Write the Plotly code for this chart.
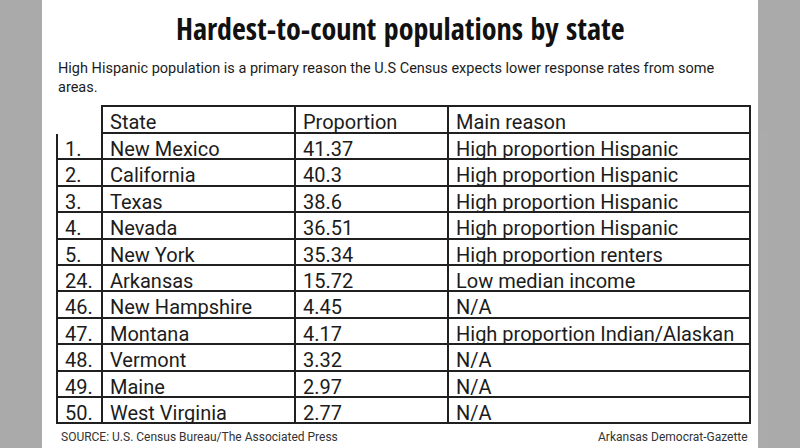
import plotly.graph_objects as go

W, H = 800, 448

ranks = ["1.", "2.", "3.", "4.", "5.", "24.", "46.", "47.", "48.", "49.", "50."]
states = ["New Mexico", "California", "Texas", "Nevada", "New York", "Arkansas",
          "New Hampshire", "Montana", "Vermont", "Maine", "West Virginia"]
proportions = ["41.37", "40.3", "38.6", "36.51", "35.34", "15.72",
               "4.45", "4.17", "3.32", "2.97", "2.77"]
reasons = ["High proportion Hispanic", "High proportion Hispanic", "High proportion Hispanic",
           "High proportion Hispanic", "High proportion renters", "Low median income",
           "N/A", "High proportion Indian/Alaskan", "N/A", "N/A", "N/A"]
headers = ["", "State", "Proportion", "Main reason"]

title = "Hardest-to-count populations by state"
subtitle = ("High Hispanic population is a primary reason the U.S Census expects lower response rates from some<br>"
            "areas.")
source = "SOURCE: U.S. Census Bureau/The Associated Press"
credit = "Arkansas Democrat-Gazette"

FONT = "Roboto"
TITLE_FONT = "Open Sans Condensed"
INK = "#1c1c1c"
LINE = "#202020"
GRAY = "#a9aaa9"

tbl_left, tbl_right = 57, 750
tbl_top = 106
col_widths = [45, 193, 153, 302]

fig = go.Figure()
fig.add_trace(go.Table(
    domain=dict(x=[tbl_left / W, tbl_right / W], y=[0, 1 - tbl_top / H]),
    columnwidth=col_widths,
    header=dict(
        values=headers,
        align="left",
        height=27,
        fill_color="white",
        line=dict(color=["white", LINE, LINE, LINE], width=2),
        font=dict(family=FONT, size=20, color=INK),
    ),
    cells=dict(
        values=[ranks, states, proportions, reasons],
        align="left",
        height=26.4,
        fill_color="white",
        line=dict(color=LINE, width=2),
        font=dict(family=FONT, size=20, color=INK),
    ),
))

fig.add_shape(type="rect", xref="paper", yref="paper", x0=42 / W, x1=758 / W, y0=0, y1=1,
              fillcolor="white", line=dict(width=0), layer="below")

fig.add_annotation(text=title, xref="paper", yref="paper",
                   x=0.5, y=1 - 28 / H, xanchor="center", yanchor="middle", showarrow=False,
                   font=dict(family=TITLE_FONT, size=30, color="#111", weight="bold"))
fig.add_annotation(text=subtitle, xref="paper", yref="paper",
                   x=56 / W, y=1 - 58 / H, xanchor="left", yanchor="top", showarrow=False,
                   align="left", font=dict(family=FONT, size=14.5, color=INK))
fig.add_annotation(text=source, xref="paper", yref="paper",
                   x=59 / W, y=1 - 437 / H, xanchor="left", yanchor="middle", showarrow=False,
                   font=dict(family=FONT, size=12, color="#333"))
fig.add_annotation(text=credit, xref="paper", yref="paper",
                   x=750 / W, y=1 - 437 / H, xanchor="right", yanchor="middle", showarrow=False,
                   font=dict(family=FONT, size=12, color="#333"))

fig.update_layout(width=W, height=H, margin=dict(l=0, r=0, t=0, b=0),
                  paper_bgcolor=GRAY, plot_bgcolor=GRAY, showlegend=False)

fig.write_html("out.html", config={"displayModeBar": False},
               post_script="document.body.style.margin='0';")
